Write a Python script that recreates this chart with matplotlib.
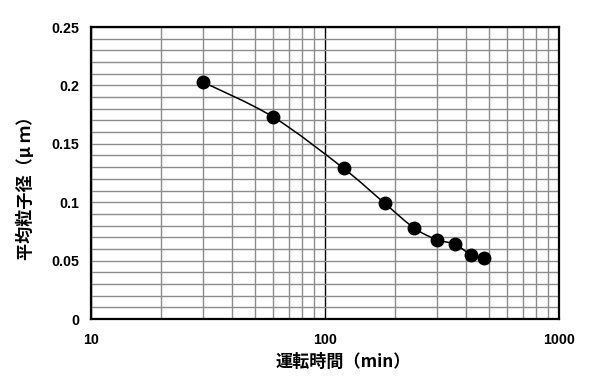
import matplotlib
matplotlib.use('Agg')
import numpy as np
import matplotlib.pyplot as plt
from matplotlib.path import Path
from matplotlib.patches import PathPatch
from matplotlib.ticker import FixedLocator, NullFormatter

plt.rcParams['font.family'] = ['Liberation Sans', 'Noto Sans CJK JP', 'DejaVu Sans']

# data
time_min = [30, 60, 120, 180, 240, 300, 360, 420, 480]
diameter_um = [0.203, 0.173, 0.129, 0.099, 0.078, 0.068, 0.064, 0.055, 0.052]
y_ticks = [0, 0.05, 0.1, 0.15, 0.2, 0.25]
y_tick_labels = ['0', '0.05', '0.1', '0.15', '0.2', '0.25']
x_ticks = [10, 100, 1000]
x_tick_labels = ['10', '100', '1000']


def smooth_path(xs, ys, tension=1 / 6):
    # Excel-like smoothed line: cubic Bezier segments, x in log space
    lx = np.log10(xs)
    ly = np.asarray(ys, dtype=float)
    n = len(lx)
    verts = [(xs[0], ys[0])]
    codes = [Path.MOVETO]
    for i in range(n - 1):
        p0 = max(i - 1, 0)
        p3 = min(i + 2, n - 1)
        c1x = lx[i] + (lx[i + 1] - lx[p0]) * tension
        c1y = ly[i] + (ly[i + 1] - ly[p0]) * tension
        c2x = lx[i + 1] - (lx[p3] - lx[i]) * tension
        c2y = ly[i + 1] - (ly[p3] - ly[i]) * tension
        verts += [(10 ** c1x, c1y), (10 ** c2x, c2y), (xs[i + 1], ys[i + 1])]
        codes += [Path.CURVE4] * 3
    return Path(verts, codes)


fig = plt.figure(figsize=(5.9, 3.91), dpi=100)
ax = fig.add_axes([0.1542, 0.1841, 0.7933, 0.7468])

ax.set_xscale('log')
ax.set_xlim(10, 1000)
ax.set_ylim(0, 0.25)

# grid
ax.xaxis.set_major_locator(FixedLocator(x_ticks))
ax.xaxis.set_minor_locator(FixedLocator([v * d for d in (10, 100) for v in range(2, 10)]))
ax.xaxis.set_minor_formatter(NullFormatter())
ax.yaxis.set_major_locator(FixedLocator(y_ticks))
ax.yaxis.set_minor_locator(FixedLocator(np.arange(0.01, 0.25, 0.01)))
ax.grid(True, which='minor', color='#8c8c8c', lw=1.0)
ax.grid(True, which='major', axis='y', color='#8c8c8c', lw=1.0)
ax.grid(True, which='major', axis='x', color='black', lw=1.0)
ax.set_axisbelow(True)

ax.set_xticklabels(x_tick_labels)
ax.set_yticklabels(y_tick_labels)
ax.tick_params(which='both', length=0)
ax.tick_params(axis='x', pad=10, labelsize=10.3)
ax.tick_params(axis='y', pad=8.5, labelsize=10.3)
for lab in ax.get_xticklabels() + ax.get_yticklabels():
    lab.set_fontweight('bold')

for sp in ax.spines.values():
    sp.set_linewidth(1.6)
    sp.set_color('black')

ax.add_patch(PathPatch(smooth_path(time_min, diameter_um), fill=False,
                       edgecolor='black', lw=1.1, zorder=3))
ax.plot(time_min, diameter_um, 'o', color='black', markersize=9, zorder=4)

cjk = ['Noto Sans CJK JP', 'DejaVu Sans']
ax.text(0.5395, -0.147, '運転時間（min）', transform=ax.transAxes,
        ha='center', va='center', fontsize=12.3, fontweight='bold', family=cjk)
ax.text(-0.14, 0.462, '平均粒子径（μ ｍ）', transform=ax.transAxes, rotation=90,
        ha='center', va='center', fontsize=12.3, fontweight='bold', family=cjk)

fig.savefig('out.png', dpi=100)
